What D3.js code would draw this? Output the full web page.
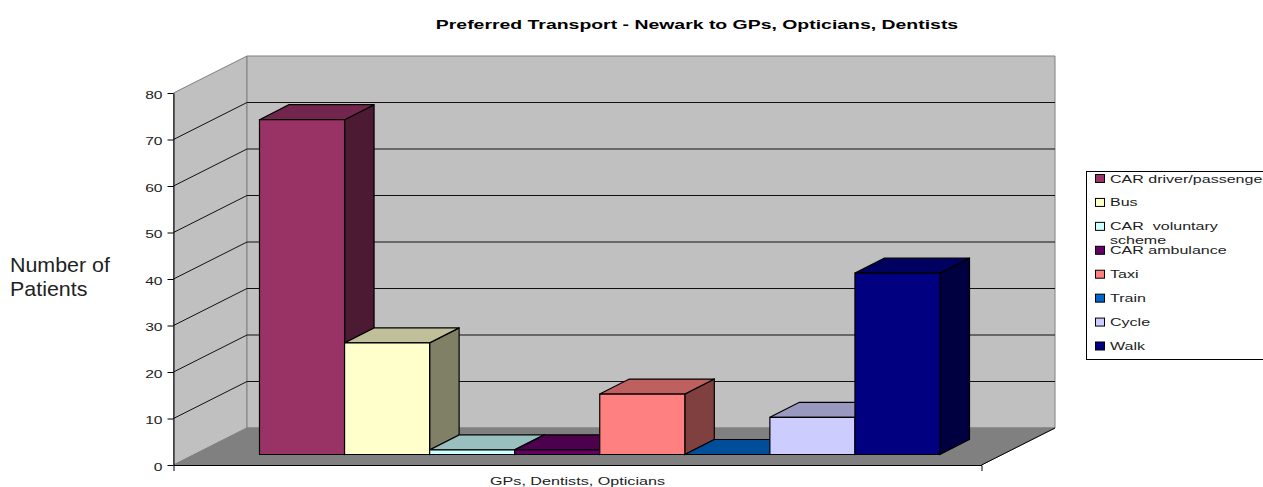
<!DOCTYPE html>
<html>
<head>
<meta charset="utf-8">
<script src="https://cdn.jsdelivr.net/npm/d3@7"></script>
<style>
  body { margin: 0; background: #fff; }
  text { font-family: "Liberation Sans", Arial, sans-serif; fill: #222; }
</style>
</head>
<body>
<div id="chart"></div>
<script>
const title = "Preferred Transport - Newark to GPs, Opticians, Dentists";
const categoryLabel = "GPs, Dentists, Opticians";
const yTitleLines = ["Number of", "Patients"];
const series = ["CAR driver/passenger", "Bus", "CAR  voluntary scheme", "CAR ambulance", "Taxi", "Train", "Cycle", "Walk"];
const values = [72, 24, 1, 1, 13, 0, 8, 39];
const barColors = ["#993366", "#ffffcc", "#ccffff", "#660066", "#ff8080", "#0066cc", "#ccccff", "#000080"];
const yTicks = [0, 10, 20, 30, 40, 50, 60, 70, 80];

const width = 1263;
const height = 487;
// box of the 3d plot
const front = { left: 173.5, right: 981.5, bottom: 465, top: 93 };
const wallDx = 73.5;
const wallDy = -37;
const barDx = 29.5;
const barDy = -15;
const barLift = 10.5;
const stretch = 1.42;

const svg = d3.select("#chart").append("svg")
  .attr("width", width)
  .attr("height", height)
  .attr("viewBox", [0, 0, width, height])
  .style("display", "block");

const y = d3.scaleLinear().domain([0, 80]).range([front.bottom, front.top]);
const xCat = d3.scaleBand().domain([categoryLabel]).range([front.left, front.right]);
const xBar = d3.scaleBand().domain(series).range([259.5, 940]);

const poly = (points, fill, stroke, sw = 1) =>
  svg.append("polygon")
    .attr("points", points.map((p) => p.join(",")).join(" "))
    .attr("fill", fill)
    .attr("stroke", stroke)
    .attr("stroke-width", sw);

// walls and floor
const bx = front.left + wallDx;
const bxr = front.right + wallDx;
const topY = y(80);
const botY = y(0);
poly([[front.left, botY], [bx, botY + wallDy], [bx, topY + wallDy], [front.left, topY]], "#c0c0c0", "#808080");
poly([[bx, botY + wallDy], [bxr, botY + wallDy], [bxr, topY + wallDy], [bx, topY + wallDy]], "#c0c0c0", "#808080");
poly([[front.left, botY], [front.right, botY], [bxr, botY + wallDy], [bx, botY + wallDy]], "#808080", "#808080");

// grid lines run along the side wall, then the back wall
const grid = svg.append("g").attr("fill", "none").attr("stroke", "#111").attr("stroke-width", 1);
yTicks.filter((t) => t > 0 && t < 80).forEach((t) => {
  grid.append("path").attr("d", d3.line()([
    [front.left, y(t)],
    [bx, y(t) + wallDy],
    [bxr, y(t) + wallDy],
  ]));
});
svg.append("line")
  .attr("x1", front.right).attr("y1", botY)
  .attr("x2", bxr).attr("y2", botY + wallDy)
  .attr("stroke", "#000");

// bars, left to right so the next one hides the side of the last
const shade = (color, k) => {
  const c = d3.rgb(color);
  return d3.rgb(c.r * k, c.g * k, c.b * k).formatHex();
};
series.forEach((name, i) => {
  const x0 = xBar(name);
  const x1 = x0 + xBar.bandwidth();
  const base = y(0) - barLift;
  const top = y(values[i]) - barLift;
  const color = barColors[i];
  poly([[x1, base], [x1 + barDx, base + barDy], [x1 + barDx, top + barDy], [x1, top]], shade(color, 0.5), "#000", 1.2);
  poly([[x0, top], [x1, top], [x1 + barDx, top + barDy], [x0 + barDx, top + barDy]], shade(color, 0.75), "#000", 1.2);
  poly([[x0, base], [x1, base], [x1, top], [x0, top]], color, "#000", 1.2);
});

// axes
const yAxis = svg.append("g")
  .attr("transform", `translate(${front.left},0)`)
  .call(d3.axisLeft(y).tickValues(yTicks).tickSize(6).tickSizeOuter(0));
yAxis.selectAll("text")
  .attr("font-size", 11)
  .attr("x", -11 / stretch)
  .attr("y", 1.5)
  .attr("transform", `scale(${stretch},1)`);

const xAxis = svg.append("g")
  .attr("transform", `translate(0,${front.bottom})`)
  .call(d3.axisBottom(xCat).tickSize(0).tickSizeOuter(6).tickPadding(12));
xAxis.selectAll(".tick").attr("transform", `translate(${xCat(categoryLabel) + xCat.bandwidth() / 2},0)`);
xAxis.selectAll("text")
  .attr("font-size", 11)
  .attr("x", 0)
  .attr("transform", "scale(1.47,1)");

// title
svg.append("text")
  .attr("transform", "translate(697,29) scale(1.44,1)")
  .attr("text-anchor", "middle")
  .attr("font-size", 13.5)
  .attr("font-weight", "bold")
  .style("fill", "#000")
  .text(title);

// y title
svg.selectAll(".ytitle").data(yTitleLines).join("text")
  .attr("class", "ytitle")
  .attr("transform", (d, i) => `translate(10,${271.5 + i * 24}) scale(1.045,1)`)
  .attr("font-size", 20.5)
  .text((d) => d);

// legend
const legendX = 1086.5;
svg.append("rect")
  .attr("x", legendX).attr("y", 171.5)
  .attr("width", width).attr("height", 188)
  .attr("fill", "#fff").attr("stroke", "#000");

const rowY = d3.scalePoint().domain(series).range([178.5, 346]);
const legend = svg.append("g");
series.forEach((name, i) => {
  legend.append("rect")
    .attr("x", 1095.5).attr("y", rowY(name) - 4)
    .attr("width", 9).attr("height", 8)
    .attr("fill", barColors[i])
    .attr("stroke", "#000");
  const wrapped = name === "CAR  voluntary scheme" ? ["CAR  voluntary", "scheme"] : [name];
  wrapped.forEach((line, j) => {
    legend.append("text")
      .attr("transform", `translate(1110,${rowY(name) + 4 + j * 14}) scale(${stretch},1)`)
      .attr("font-size", 11.3)
      .style("white-space", "pre")
      .text(line);
  });
});
</script>
</body>
</html>
